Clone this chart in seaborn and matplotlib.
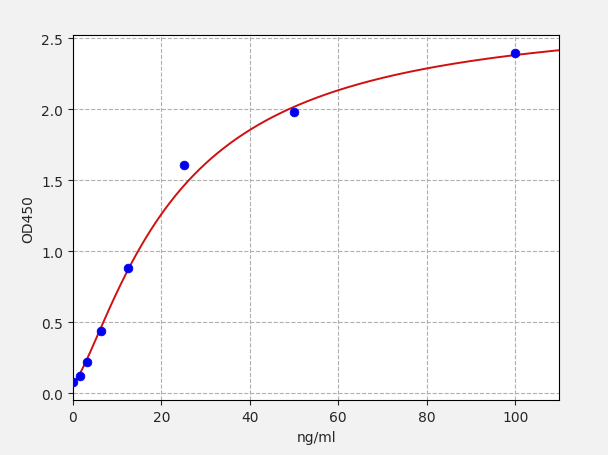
import numpy as np
import pandas as pd
import matplotlib
matplotlib.use("Agg")
import matplotlib.pyplot as plt
import seaborn as sns

conc = [0, 1.56, 3.125, 6.25, 12.5, 25, 50, 100]
od = [0.08, 0.12, 0.22, 0.44, 0.88, 1.61, 1.98, 2.40]
# 4PL fit parameters (a, b, c, d)
fit_a, fit_b, fit_c, fit_d = 0.07, 1.35, 23.0, 2.7

sns.set_style("ticks")
fig, ax = plt.subplots(figsize=(6.08, 4.56), dpi=100)
fig.patch.set_facecolor("#f2f2f2")
ax.set_facecolor("white")

xs = np.linspace(0, 110, 400)
ys = fit_d + (fit_a - fit_d) / (1 + (xs / fit_c) ** fit_b)
sns.lineplot(x=xs, y=ys, color="#d01010", lw=1.4, ax=ax)
sns.scatterplot(x=conc, y=od, color="#0000ee", s=40, edgecolor="#0000ee", zorder=3, ax=ax)

ax.set_xlim(0, 110)
ax.set_ylim(-0.05, 2.52)
ax.set_xticks([0, 20, 40, 60, 80, 100])
ax.set_yticks([0.0, 0.5, 1.0, 1.5, 2.0, 2.5])
ax.grid(True, ls="--", color="#b0b0b0", lw=0.8)
ax.set_xlabel("ng/ml")
ax.set_ylabel("OD450")
for s in ax.spines.values():
    s.set_color("black")
plt.subplots_adjust(left=0.12, right=0.92, top=0.92, bottom=0.12)
fig.savefig("out.png", dpi=100, facecolor=fig.get_facecolor())
